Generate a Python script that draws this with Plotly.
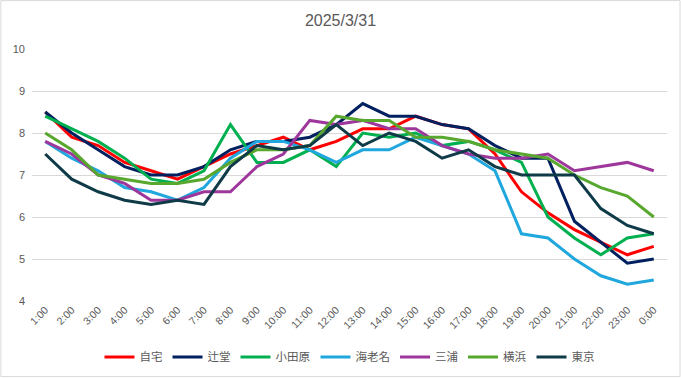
import plotly.graph_objects as go

hours = ["1:00", "2:00", "3:00", "4:00", "5:00", "6:00", "7:00", "8:00", "9:00", "10:00",
         "11:00", "12:00", "13:00", "14:00", "15:00", "16:00", "17:00", "18:00", "19:00",
         "20:00", "21:00", "22:00", "23:00", "0:00"]

jitaku = [8.5, 7.9, 7.7, 7.3, 7.1, 6.9, 7.2, 7.5, 7.7, 7.9, 7.6, 7.8, 8.1, 8.1, 8.4, 8.2, 8.1, 7.5, 6.6, 6.1, 5.7, 5.4, 5.1, 5.3]
tsujido = [8.5, 8.0, 7.6, 7.2, 7.0, 7.0, 7.2, 7.6, 7.8, 7.8, 7.9, 8.2, 8.7, 8.4, 8.4, 8.2, 8.1, 7.7, 7.4, 7.4, 5.9, 5.4, 4.9, 5.0]
odawara = [8.4, 8.1, 7.8, 7.4, 6.9, 6.8, 7.1, 8.2, 7.3, 7.3, 7.6, 7.2, 8.0, 7.9, 8.0, 7.7, 7.8, 7.6, 7.3, 6.0, 5.5, 5.1, 5.5, 5.6]
ebina = [7.8, 7.4, 7.1, 6.7, 6.6, 6.4, 6.7, 7.4, 7.8, 7.8, 7.6, 7.3, 7.6, 7.6, 7.9, 7.7, 7.5, 7.1, 5.6, 5.5, 5.0, 4.6, 4.4, 4.5]
miura = [7.8, 7.5, 7.0, 6.8, 6.4, 6.4, 6.6, 6.6, 7.2, 7.5, 8.3, 8.2, 8.3, 8.1, 8.1, 7.7, 7.5, 7.4, 7.4, 7.5, 7.1, 7.2, 7.3, 7.1]
yokohama = [8.0, 7.6, 7.0, 6.9, 6.8, 6.8, 6.9, 7.3, 7.6, 7.6, 7.7, 8.4, 8.3, 8.3, 7.9, 7.9, 7.8, 7.6, 7.5, 7.4, 7.0, 6.7, 6.5, 6.0]
tokyo = [7.5, 6.9, 6.6, 6.4, 6.3, 6.4, 6.3, 7.2, 7.7, 7.6, 7.7, 8.2, 7.7, 8.0, 7.8, 7.4, 7.6, 7.2, 7.0, 7.0, 7.0, 6.2, 5.8, 5.6]

series = [
    ("自宅", jitaku, "#FF0000"),
    ("辻堂", tsujido, "#002060"),
    ("小田原", odawara, "#00B050"),
    ("海老名", ebina, "#1FA7DE"),
    ("三浦", miura, "#9E379C"),
    ("横浜", yokohama, "#58A72E"),
    ("東京", tokyo, "#0F3A48"),
]

fig = go.Figure()
for name, vals, color in series:
    fig.add_trace(go.Scatter(x=hours, y=vals, name=name, mode="lines",
                             line=dict(color=color, width=3)))

font_family = "Liberation Sans, Noto Sans CJK JP, sans-serif"

fig.update_layout(
    width=681, height=378,
    margin=dict(l=32, r=14, t=49, b=77, autoexpand=False),
    paper_bgcolor="white", plot_bgcolor="white",
    font=dict(family=font_family, color="#595959", size=11),
    title=dict(text="2025/3/31", x=0.5, xanchor="center", y=0.945, yanchor="middle",
               font=dict(size=16, color="#595959", family=font_family)),
    showlegend=True,
    legend=dict(orientation="h", x=0.5, xanchor="center", y=-0.222, yanchor="middle",
                font=dict(size=11.5, color="#595959"), itemwidth=30,
                tracegroupgap=0),
    xaxis=dict(type="category", range=[-0.5, 23.5], showgrid=False, zeroline=False,
               showline=False, automargin=False,
               tickangle=-45, tickfont=dict(size=10.5, color="#595959"), ticks=""),
    yaxis=dict(range=[4, 10], dtick=1, showgrid=True, gridcolor="#D9D9D9", gridwidth=1,
               zeroline=False, showline=False, automargin=False,
               tickfont=dict(size=11, color="#595959"),
               ticks="", ticklabelstandoff=6),
    shapes=[dict(type="rect", xref="paper", yref="paper",
                 x0=-0.049, x1=1.0205, y0=-0.300, y1=1.192,
                 line=dict(color="#D9D9D9", width=1), fillcolor="rgba(0,0,0,0)", layer="below")],
)

fig.write_html("out.html", config={"displayModeBar": False},
               post_script="document.body.style.margin='0';document.body.style.overflow='hidden';")
